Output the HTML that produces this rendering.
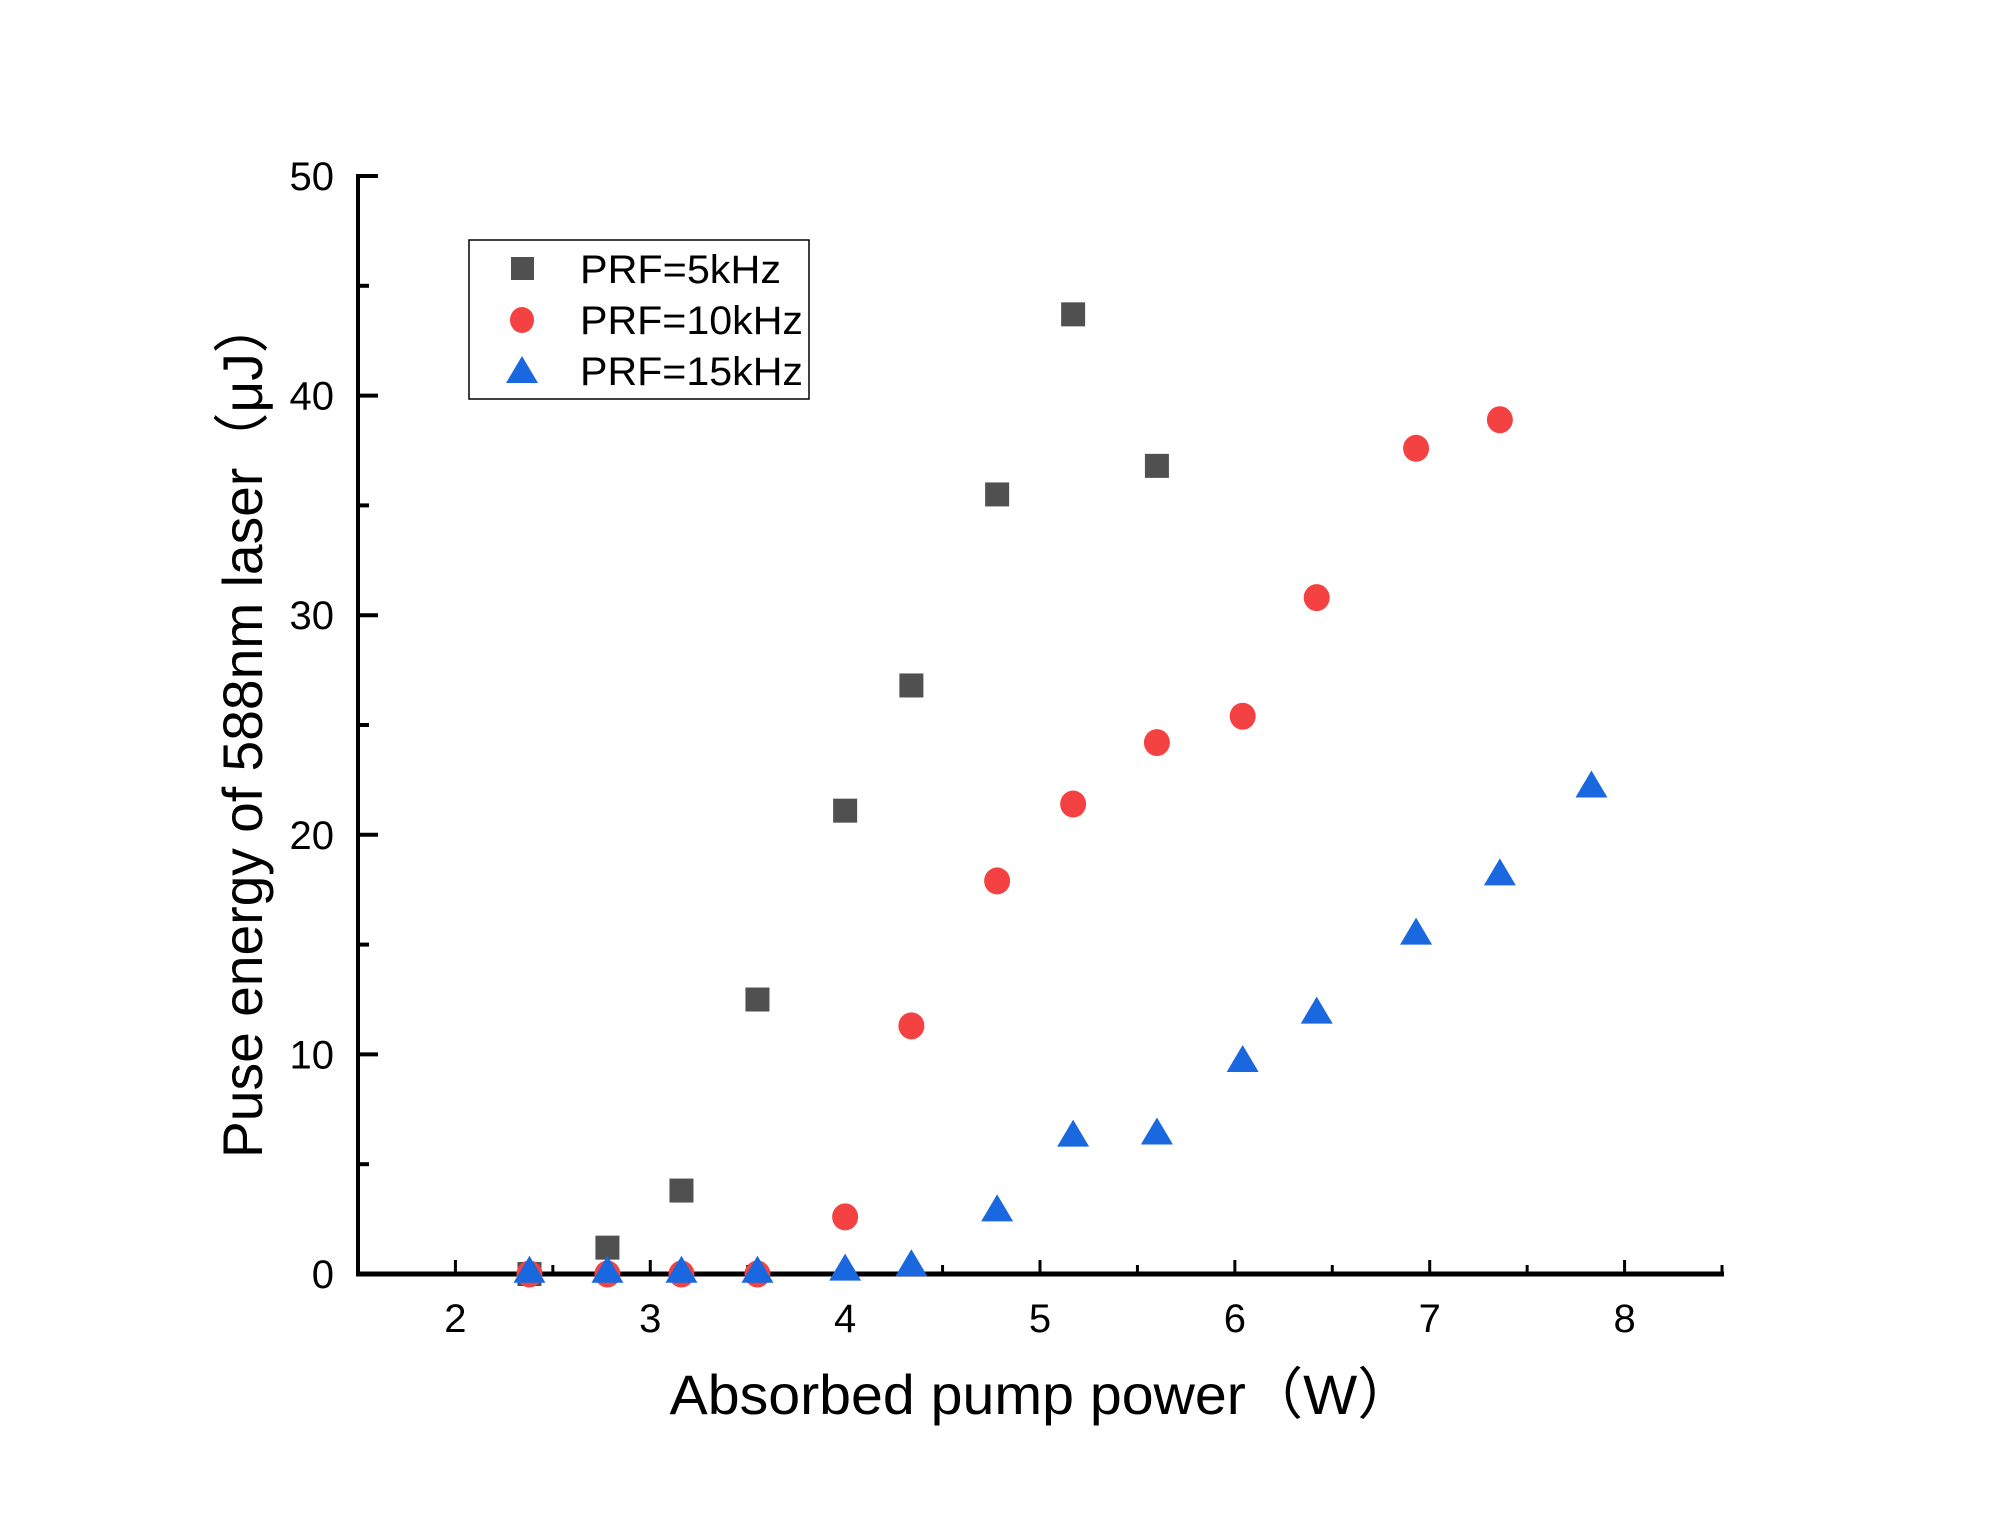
<!DOCTYPE html>
<html><head><meta charset="utf-8"><style>
html,body{margin:0;padding:0;background:#fff;}
svg{display:block;font-family:"Liberation Sans","Noto Sans CJK SC",sans-serif;}
</style></head><body>
<svg id="chart" width="2000" height="1530" viewBox="0 0 2000 1530" xmlns="http://www.w3.org/2000/svg">
<rect width="2000" height="1530" fill="#fff"/>
<g id="axes"></g>
<g id="marks"></g>
<g>
  <rect x="469" y="240" width="340" height="159" fill="#fff" stroke="#000" stroke-width="1.5"/>
  <rect x="511" y="257" width="23" height="23" fill="#505050"/>
  <text x="580" y="283" font-size="40" textLength="201" lengthAdjust="spacingAndGlyphs">PRF=5kHz</text>
  <ellipse cx="522" cy="320" rx="12" ry="13" fill="#f44242"/>
  <text x="580" y="334" font-size="40" textLength="223" lengthAdjust="spacingAndGlyphs">PRF=10kHz</text>
  <polygon points="522,356 538,383 506,383" fill="#1a68e0"/>
  <text x="580" y="385" font-size="40" textLength="223" lengthAdjust="spacingAndGlyphs">PRF=15kHz</text>
</g>
<text x="1042" y="1414" font-size="56" text-anchor="middle" textLength="745" lengthAdjust="spacingAndGlyphs">Absorbed pump power（W）</text>
<text transform="translate(262,728) rotate(-90)" font-size="56" text-anchor="middle" textLength="860" lengthAdjust="spacingAndGlyphs">Puse energy of 588nm laser（μJ）</text>
</svg>
<script>
const xTicks=[2,3,4,5,6,7,8];
const yTicks=[0,10,20,30,40,50];
const x5=[2.38,2.78,3.16,3.55,4.0,4.34,4.78,5.17,5.6];
const y5=[0,1.2,3.8,12.5,21.1,26.8,35.5,43.7,36.8];
const x10=[2.38,2.78,3.16,3.55,4.0,4.34,4.78,5.17,5.6,6.04,6.42,6.93,7.36];
const y10=[0,0,0,0,2.6,11.3,17.9,21.4,24.2,25.4,30.8,37.6,38.9];
const x15=[2.38,2.78,3.16,3.55,4.0,4.34,4.78,5.17,5.6,6.04,6.42,6.93,7.36,7.83];
const y15=[0.1,0.1,0.1,0.1,0.2,0.4,2.9,6.3,6.4,9.7,11.9,15.5,18.2,22.2];

const NS="http://www.w3.org/2000/svg";
const L=358,R=1722,T=176,B=1274,XMIN=1.5,XMAX=8.5,YMIN=0,YMAX=50;
const sx=v=>L+(v-XMIN)/(XMAX-XMIN)*(R-L);
const sy=v=>B-(v-YMIN)/(YMAX-YMIN)*(B-T);
function mk(tag,a,parent){const e=document.createElementNS(NS,tag);for(const k in a)e.setAttribute(k,a[k]);parent.appendChild(e);return e;}
const ax=document.getElementById('axes'),mg=document.getElementById('marks');
let e;
e=mk('line',{x1:L,y1:T-2,x2:L,y2:B+2,stroke:'#000','stroke-width':4},ax);


e=mk('line',{x1:L-2,y1:B,x2:R+2,y2:B,stroke:'#000','stroke-width':5},ax);


for(let v=XMIN;v<=XMAX+1e-9;v+=0.5){
  const major=Number.isInteger(v);
  e=mk('line',{x1:sx(v),y1:B,x2:sx(v),y2:B-(major?14:9),stroke:'#000','stroke-width':3},ax);
  
  
}
xTicks.forEach(v=>{
  e=mk('text',{x:sx(v),y:B+58,'font-size':40,'text-anchor':'middle'},ax);e.textContent=v;
  
  
});
for(let v=YMIN;v<=YMAX;v+=5){
  const major=v%10===0;
  e=mk('line',{x1:L,y1:sy(v),x2:L+(major?20:11),y2:sy(v),stroke:'#000','stroke-width':4},ax);
  
  
}
yTicks.forEach(v=>{
  e=mk('text',{x:L-24,y:sy(v)+14,'font-size':40,'text-anchor':'end'},ax);e.textContent=v;
  
  
});
x5.forEach((v,i)=>{
  e=mk('rect',{x:sx(v)-12,y:sy(y5[i])-12,width:24,height:24,fill:'#505050'},mg);
  
  
});
x10.forEach((v,i)=>{
  e=mk('ellipse',{cx:sx(v),cy:sy(y10[i]),rx:13,ry:13.5,fill:'#f44242'},mg);
  
  
});
x15.forEach((v,i)=>{
  const cx=sx(v),cy=sy(y15[i]);
  e=mk('polygon',{points:`${cx},${cy-16} ${cx+16},${cy+11} ${cx-16},${cy+11}`,fill:'#1a68e0'},mg);
  
  
});
</script>
</body></html>
